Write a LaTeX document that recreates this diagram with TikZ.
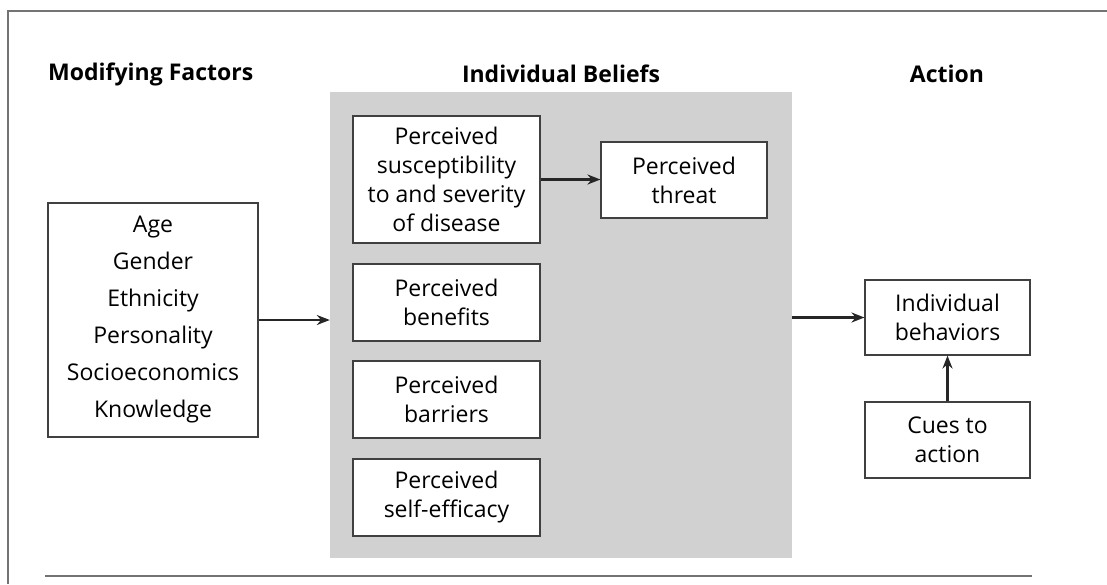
\documentclass[tikz,border=0pt]{standalone}
\usepackage{fontspec}
\setmainfont{Open Sans}
\usetikzlibrary{arrows.meta}
\begin{document}
\begin{tikzpicture}[>={Stealth[length=13pt,width=10pt]},x=1pt,y=-1pt,font=\fontsize{23}{29}\selectfont,
    box/.style={draw=black!75,line width=1.1pt,fill=white,align=center,inner sep=0pt,text=black},
    head/.style={font=\fontsize{23}{29}\selectfont\bfseries,text=black,inner sep=0pt},
    conn/.style={->,line width=2.4pt,black!85}]
    \useasboundingbox (0,0) rectangle (1107,584);
    % frame and rule
    \draw[black!55,line width=1.3pt] (1107,11)--(8,11)--(8,584);
    \draw[black!55,line width=1.6pt] (45,576)--(1032,576);
    % headings
    \node[head,anchor=west] (hmod) at (48,74) {Modifying Factors};
    \node[head] (hbel) at (561,74) {Individual Beliefs};
    \node[head] (hact) at (947,74) {Action};
    % shaded block
    \node[fill=black!18,minimum width=462,minimum height=466,inner sep=0pt] (beliefs) at (561,325) {};
    % boxes
    \node[box,minimum width=210,minimum height=234,font=\fontsize{23}{37}\selectfont] (mod) at (153,320)
        {Age\\Gender\\Ethnicity\\Personality\\Socioeconomics\\Knowledge};
    \node[box,minimum width=187,minimum height=127] (sus) at (446.5,179.5)
        {Perceived\\susceptibility\\to and severity\\of disease};
    \node[box,minimum width=166,minimum height=76] (threat) at (684,180) {Perceived\\threat};
    \node[box,minimum width=187,minimum height=77] (ben) at (446.5,302.5) {Perceived\\benefits};
    \node[box,minimum width=187,minimum height=77] (bar) at (446.5,399.5) {Perceived\\barriers};
    \node[box,minimum width=187,minimum height=77] (eff) at (446.5,497.5) {Perceived\\self-efficacy};
    \node[box,minimum width=165,minimum height=75] (beh) at (947.5,317.5) {Individual\\behaviors};
    \node[box,minimum width=165,minimum height=76] (cues) at (947.5,440) {Cues to\\action};
    % connectors
    \draw[conn] (mod.east) -- (mod.east -| beliefs.west);
    \draw[conn] (sus.east) -- (sus.east -| threat.west);
    \draw[conn] (beliefs.east |- beh.west) -- (beh.west);
    \draw[conn] (cues) -- (beh);
\end{tikzpicture}
\end{document}
